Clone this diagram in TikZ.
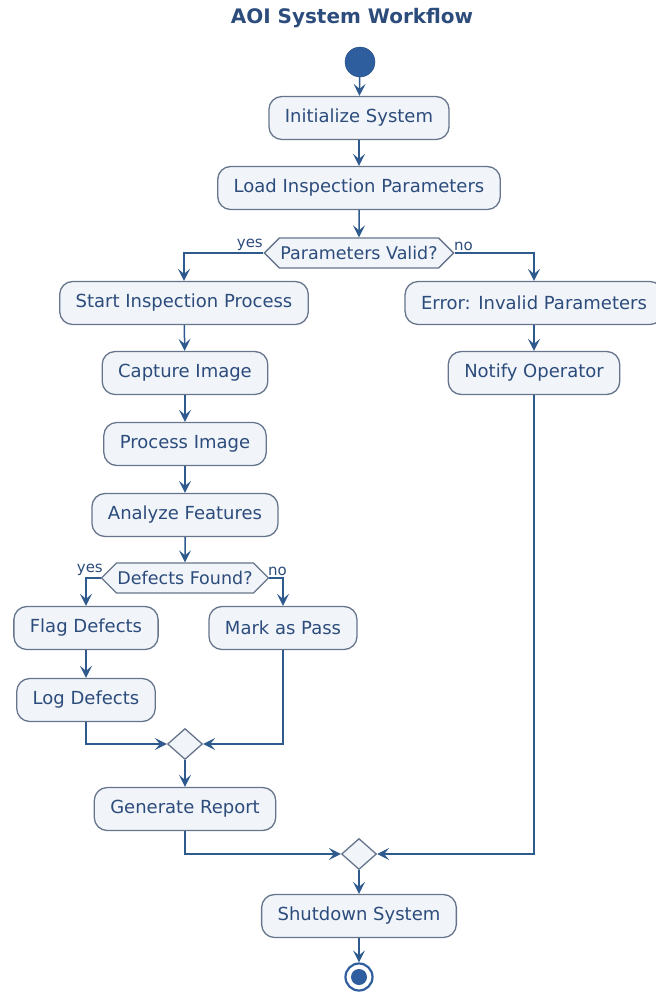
\documentclass[tikz,border=0pt]{standalone}
\usepackage{fontspec}
\setmainfont{DejaVu Sans}
\usetikzlibrary{arrows.meta,shapes.geometric,shapes.symbols,calc}
\definecolor{boxfill}{HTML}{F1F4F9}
\definecolor{boxdraw}{HTML}{66758C}
\definecolor{txtcol}{HTML}{2C4C7C}
\definecolor{linecol}{HTML}{2E5A8E}
\definecolor{dotcol}{HTML}{2F5E9E}
\tikzset{
  act/.style={draw=boxdraw, fill=boxfill, line width=1.3pt, rounded corners=13pt,
    minimum height=43pt, inner xsep=16pt, text=txtcol, font=\fontsize{18}{21}\selectfont},
  dec/.style={draw=boxdraw, fill=boxfill, line width=1.3pt, signal, signal to=east and west,
    signal pointer angle=90, minimum height=30pt, inner xsep=1pt, inner ysep=2pt,
    text=txtcol, font=\fontsize{17.5}{20}\selectfont},
  merge/.style={draw=boxdraw, fill=boxfill, line width=1.3pt, diamond, minimum width=35pt,
    minimum height=31pt, inner sep=0pt},
  flow/.style={draw=linecol, line width=1.5pt, -{Stealth[length=12pt,width=12pt,inset=5pt]}},
  lbl/.style={text=txtcol, font=\fontsize{15}{17}\selectfont, inner sep=0pt},
}
\begin{document}
\begin{tikzpicture}[x=1pt,y=-1pt]
\useasboundingbox (0,0) rectangle (656,994);

\node[font=\bfseries\fontsize{20}{24}\selectfont, text=txtcol] (title) at (352,18) {AOI System Workflow};

\node[circle, fill=dotcol, draw=dotcol!80!black, minimum size=30pt, inner sep=0pt] (start) at (360,62) {};
\node[act] (init) at (359,118) {Initialize System};
\node[act] (load) at (359,188) {Load Inspection Parameters};
\node[dec] (valid) at (359,253) {Parameters Valid?};

\node[act] (insp) at (184,303) {Start Inspection Process};
\node[act] (err) at (534,303) {Error: Invalid Parameters};
\node[act] (notify) at (534,373) {Notify Operator};

\node[act] (capture) at (185,373) {Capture Image};
\node[act] (process) at (185,444) {Process Image};
\node[act] (analyze) at (185,515) {Analyze Features};
\node[dec] (defects) at (185,578) {Defects Found?};

\node[act] (flag) at (86,628) {Flag Defects};
\node[act] (pass) at (283,628) {Mark as Pass};
\node[act] (log) at (86,700) {Log Defects};

\node[merge] (m1) at (185,744) {};
\node[act] (report) at (185,809) {Generate Report};
\node[merge] (m2) at (359,854) {};
\node[act] (shut) at (359,916) {Shutdown System};

\node[circle, draw=dotcol, line width=2.2pt, fill=white, minimum size=27pt, inner sep=0pt] (stop) at (359,977) {};
\node[circle, fill=dotcol, minimum size=16pt, inner sep=0pt] (stopdot) at (stop.center) {};

% branch labels
\node[lbl, anchor=south east] (y1) at (263,251) {yes};
\node[lbl, anchor=south west] (n1) at (454,251) {no};
\node[lbl, anchor=south east] (y2) at (103,576) {yes};
\node[lbl, anchor=south west] (n2) at (268,576) {no};

% connectors
\draw[flow] (start) -- (init);
\draw[flow] (init) -- (load);
\draw[flow] (load) -- (valid);
\draw[flow] (valid.west) -| (insp.north);
\draw[flow] (valid.east) -| (err.north);
\draw[flow] (err) -- (notify);
\draw[flow] (insp) -- (capture);
\draw[flow] (capture) -- (process);
\draw[flow] (process) -- (analyze);
\draw[flow] (analyze) -- (defects);
\draw[flow] (defects.west) -| (flag.north);
\draw[flow] (defects.east) -| (pass.north);
\draw[flow] (flag) -- (log);
\draw[flow] (log.south) |- (m1.west);
\draw[flow] (pass.south) |- (m1.east);
\draw[flow] (m1) -- (report);
\draw[flow] (report.south) |- (m2.west);
\draw[flow] (notify.south) |- (m2.east);
\draw[flow] (m2) -- (shut);
\draw[flow] (shut) -- (stop);
\end{tikzpicture}
\end{document}
